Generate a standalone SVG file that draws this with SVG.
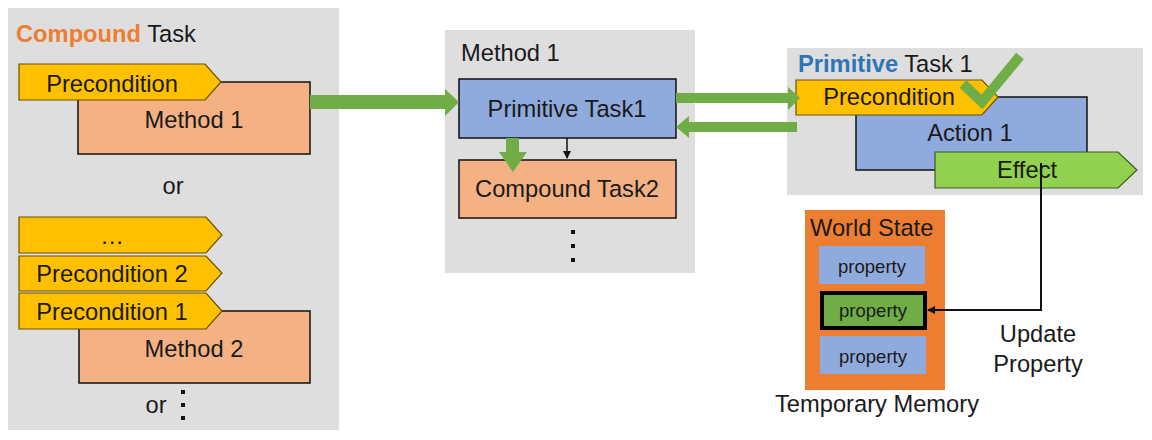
<svg xmlns="http://www.w3.org/2000/svg" width="1152" height="440" viewBox="0 0 1152 440">
<style>
text{font-family:"Liberation Sans",Arial,sans-serif;fill:#1a1a1a;font-size:23.7px}
.panel{fill:#dedede}
.tag{fill:#ffc000;stroke:#6b5200;stroke-width:1.2}
.eff{fill:#92d050;stroke:#3d5a1f;stroke-width:1.2}
.meth{fill:#f4b183;stroke:#111;stroke-width:1.5}
.prim{fill:#8faadc;stroke:#111;stroke-width:1.5}
.garrow{fill:#70ad47}
.c{text-anchor:middle}
.prop{fill:#8faadc}
.sm{font-size:18.5px}
.dot{fill:#111}
</style>
<defs>
<marker id="ah" markerWidth="8" markerHeight="8" refX="7" refY="4" orient="auto" markerUnits="userSpaceOnUse">
<path d="M0,0 L8,4 L0,8 Z" fill="#111"/>
</marker>
</defs>
<rect width="1152" height="440" fill="#ffffff"/>

<g id="compound-panel">
<rect class="panel" x="8" y="8" width="331" height="422"/>
<text x="16" y="42"><tspan font-weight="bold" style="fill:#ed7d31">Compound</tspan> Task</text>
</g>
<g id="method1-left">
<rect class="meth" x="78" y="82" width="232" height="72"/>
<text class="c" x="194" y="128">Method 1</text>
</g>
<g id="precondition-left">
<polygon class="tag" points="19,64 205,64 221,82 205,100 19,100"/>
<text class="c" x="112" y="92">Precondition</text>
</g>
<text class="c" x="173" y="194">or</text>
<g id="method2-left">
<rect class="meth" x="79" y="311" width="231" height="72"/>
<text class="c" x="194" y="357">Method 2</text>
</g>
<g id="precondition-more">
<polygon class="tag" points="19,217 206,217 222,235 206,253 19,253"/>
<text class="c" x="112" y="244" font-size="19">…</text>
</g>
<g id="precondition-2">
<polygon class="tag" points="19,256 206,256 222,273 206,291 19,291"/>
<text class="c" x="112" y="282">Precondition 2</text>
</g>
<g id="precondition-1">
<polygon class="tag" points="19,293 206,293 222,311 206,329 19,329"/>
<text class="c" x="112" y="320">Precondition 1</text>
</g>
<text class="c" x="156" y="413">or</text>
<g id="dots-left">
<rect class="dot" x="181" y="390" width="4" height="4"/>
<rect class="dot" x="181" y="403" width="4" height="4"/>
<rect class="dot" x="181" y="416" width="4" height="4"/>
</g>

<g id="method1-panel">
<rect class="panel" x="445" y="30" width="250" height="243"/>
<text x="461" y="61">Method 1</text>
</g>
<g id="primitive-task1">
<rect class="prim" x="459" y="79" width="217" height="59"/>
<text class="c" x="567" y="117" font-size="20.6">Primitive Task1</text>
</g>
<g id="compound-task2">
<rect class="meth" x="459" y="160" width="217" height="58"/>
<text class="c" x="567" y="197" font-size="21">Compound Task2</text>
</g>
<g id="dots-mid">
<rect class="dot" x="571" y="230" width="4" height="4"/>
<rect class="dot" x="571" y="244" width="4" height="4"/>
<rect class="dot" x="571" y="258" width="4" height="4"/>
</g>

<g id="primitive-panel">
<rect class="panel" x="787" y="48" width="356" height="147"/>
<text x="798" y="72"><tspan font-weight="bold" style="fill:#2e75b6">Primitive</tspan> Task 1</text>
</g>
<g id="action1">
<rect class="prim" x="856" y="97" width="231" height="73"/>
<text class="c" x="970" y="141">Action 1</text>
</g>
<g id="precondition-right">
<polygon class="tag" points="796,80 982,80 998,97 982,115 796,115"/>
<text class="c" x="889" y="105">Precondition</text>
</g>
<g id="effect">
<polygon class="eff" points="935,152 1118,152 1137,170 1118,188 935,188"/>
<text class="c" x="1027" y="178">Effect</text>
</g>
<g id="check">
<polyline points="963,84 982,102 1020,56" fill="none" stroke="#70ad47" stroke-width="10"/>
</g>

<g id="world-state">
<rect x="805" y="210" width="140" height="180" fill="#ed7d31"/>
<text x="810" y="236">World State</text>
<rect class="prop" x="819" y="246" width="106" height="38"/>
<text class="c sm" x="872" y="273">property</text>
<rect x="822" y="293" width="103" height="35" fill="#70ad47" stroke="#000" stroke-width="4"/>
<text class="c sm" x="873" y="317">property</text>
<rect class="prop" x="820" y="336" width="106" height="38"/>
<text class="c sm" x="873" y="363">property</text>
</g>
<text class="c" x="877" y="412">Temporary Memory</text>
<text class="c" x="1038" y="342">Update</text>
<text class="c" x="1038" y="372">Property</text>

<g id="connectors">
<polygon class="garrow" points="310,95 445,95 445,89 459,102 445,116 445,109 310,109"/>
<polygon class="garrow" points="506,138 519,138 519,152 527,152 513,172 499,152 506,152"/>
<line x1="567" y1="138" x2="567" y2="158" stroke="#111" stroke-width="1.5" marker-end="url(#ah)"/>
<polygon class="garrow" points="676,93 788,93 788,87 800,98 788,110 788,103 676,103"/>
<polygon class="garrow" points="797,122 689,122 689,116 676,127 689,138 689,132 797,132"/>
<polyline points="1041,163 1041,310 928,310" fill="none" stroke="#111" stroke-width="2" marker-end="url(#ah)"/>
</g>
</svg>
